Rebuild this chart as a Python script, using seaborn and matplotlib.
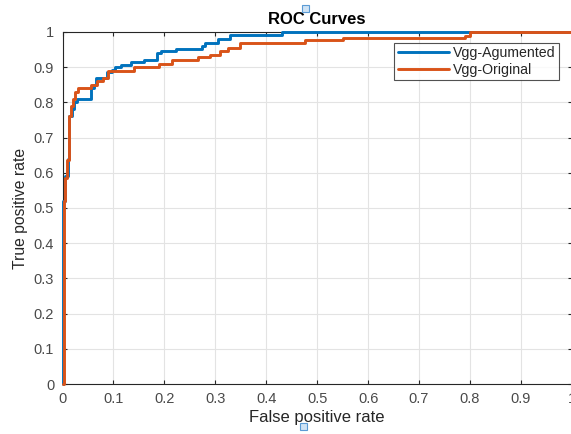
import matplotlib
matplotlib.use("Agg")
import matplotlib.pyplot as plt
import matplotlib.patches as mpatches
import seaborn as sns
import pandas as pd

# Vgg-Agumented ROC vertices
aug_fpr = [0, 0, 0.005, 0.005, 0.01, 0.01, 0.013, 0.013, 0.018, 0.018, 0.022, 0.022,
           0.028, 0.028, 0.055, 0.055, 0.062, 0.062, 0.066, 0.066, 0.088, 0.088,
           0.097, 0.097, 0.104, 0.104, 0.114, 0.114, 0.134, 0.134, 0.16, 0.16,
           0.186, 0.186, 0.193, 0.193, 0.223, 0.223, 0.273, 0.273, 0.279, 0.279,
           0.306, 0.306, 0.329, 0.329, 0.431, 0.431, 1.0]
aug_tpr = [0, 0.52, 0.52, 0.59, 0.59, 0.64, 0.64, 0.76, 0.76, 0.78, 0.78, 0.80,
           0.80, 0.81, 0.81, 0.84, 0.84, 0.85, 0.85, 0.87, 0.87, 0.885,
           0.885, 0.893, 0.893, 0.90, 0.90, 0.907, 0.907, 0.915, 0.915, 0.921,
           0.921, 0.94, 0.94, 0.945, 0.945, 0.953, 0.953, 0.96, 0.96, 0.969,
           0.969, 0.981, 0.981, 0.992, 0.992, 1.0, 1.0]

# Vgg-Original ROC vertices
org_fpr = [0, 0.003, 0.003, 0.005, 0.005, 0.008, 0.008, 0.012, 0.012, 0.016, 0.016,
           0.02, 0.02, 0.025, 0.025, 0.03, 0.03, 0.055, 0.055, 0.068, 0.068,
           0.08, 0.08, 0.09, 0.09, 0.14, 0.14, 0.19, 0.19, 0.215, 0.215,
           0.266, 0.266, 0.29, 0.29, 0.31, 0.31, 0.324, 0.324, 0.348, 0.348,
           0.477, 0.477, 0.55, 0.55, 0.79, 0.79, 0.8, 0.8, 1.0]
org_tpr = [0, 0, 0.52, 0.52, 0.584, 0.584, 0.636, 0.636, 0.76, 0.76, 0.79,
           0.79, 0.81, 0.81, 0.83, 0.83, 0.84, 0.84, 0.85, 0.85, 0.86,
           0.86, 0.869, 0.869, 0.888, 0.888, 0.9, 0.9, 0.909, 0.909, 0.921,
           0.921, 0.928, 0.928, 0.936, 0.936, 0.945, 0.945, 0.955, 0.955, 0.969,
           0.969, 0.977, 0.977, 0.983, 0.983, 0.99, 0.99, 1.0, 1.0]

series_names = ["Vgg-Agumented", "Vgg-Original"]
colors = ["#0072BD", "#D95319"]
x_ticks = [0, 0.1, 0.2, 0.3, 0.4, 0.5, 0.6, 0.7, 0.8, 0.9, 1]
y_ticks = [0, 0.1, 0.2, 0.3, 0.4, 0.5, 0.6, 0.7, 0.8, 0.9, 1]

sns.set_theme(style="whitegrid")
plt.rcParams['font.family'] = ['Liberation Sans', 'DejaVu Sans']

df = pd.concat([
    pd.DataFrame({"fpr": aug_fpr, "tpr": aug_tpr, "model": series_names[0],
                  "order": range(len(aug_fpr))}),
    pd.DataFrame({"fpr": org_fpr, "tpr": org_tpr, "model": series_names[1],
                  "order": range(len(org_fpr))}),
], ignore_index=True)

fig = plt.figure(figsize=(5.71, 4.34), dpi=100)
ax = fig.add_axes([62.5 / 571, (434 - 384) / 434, (571.8 - 62.5) / 571, (384 - 32) / 434])

sns.lineplot(data=df, x="fpr", y="tpr", hue="model", palette=colors,
             sort=False, estimator=None, units="model", linewidth=2.1, ax=ax)
for ln in ax.get_lines():
    ln.set_clip_on(False)
    ln.set_zorder(5)

ax.set_xlim(0, 1)
ax.set_ylim(0, 1)
ax.set_xticks(x_ticks)
ax.set_yticks(y_ticks)
ax.set_xticklabels([f"{t:g}" for t in x_ticks])
ax.set_yticklabels([f"{t:g}" for t in y_ticks])
ax.set_facecolor("white")
ax.grid(True, color="#e3e3e3", linewidth=0.8)
for s in ax.spines.values():
    s.set_visible(True)
    s.set_color("#262626")
    s.set_linewidth(0.8)
    s.set_zorder(2)
ax.tick_params(axis="both", which="both", direction="in", length=3, width=0.8,
               colors="#262626", labelsize=10.5, labelcolor="#4a4a4a",
               top=True, right=True, bottom=True, left=True)
ax.tick_params(axis="x", pad=5.5)
ax.tick_params(axis="y", pad=6)

ax.set_xlabel("False positive rate", fontsize=12, color="#262626", labelpad=3)
ax.set_ylabel("True positive rate", fontsize=11.3, color="#262626", labelpad=4)
ax.set_title("ROC Curves", fontsize=12, fontweight="bold", color="black", pad=6)

leg = ax.legend(loc="upper right", bbox_to_anchor=(0.975, 0.969), fontsize=10.2,
                frameon=True, fancybox=False, edgecolor="#262626",
                handlelength=3.6, borderpad=0.25, labelspacing=0.15,
                handletextpad=0.3, borderaxespad=0)
leg.get_frame().set_linewidth(0.8)
leg.set_zorder(6)

# small selection handles visible in the reference
for (px, py) in [(305, 8), (303, 426)]:
    fig.patches.append(mpatches.Rectangle(
        ((px - 3.5) / 571, (434 - py - 3.5) / 434), 7 / 571, 7 / 434,
        transform=fig.transFigure, facecolor="#cfe3f5", edgecolor="#5b9bd5",
        linewidth=0.8, zorder=10))

fig.savefig("out.png", dpi=100)
